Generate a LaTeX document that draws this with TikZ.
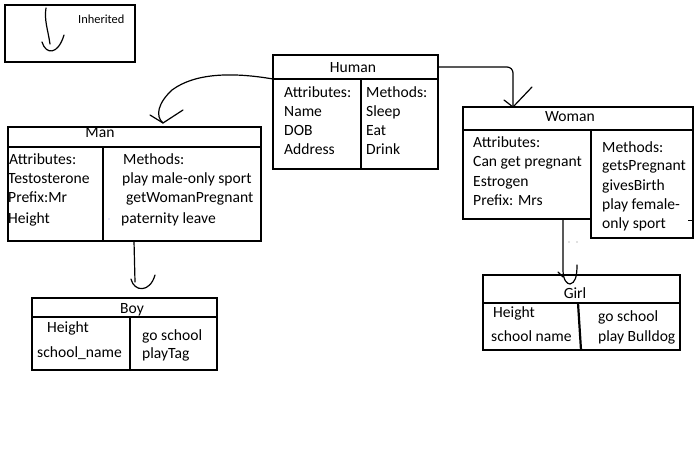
\documentclass[tikz,border=0pt]{standalone}
\usepackage{fontspec}
\setmainfont{Carlito}
\begin{document}
\begin{tikzpicture}[x=1pt,y=-1pt,
 box/.style={draw,line width=2.2pt,inner sep=0pt,outer sep=0pt,anchor=north west},
 txt/.style={anchor=base west,inner sep=0pt,font=\fontsize{15.6}{18}\selectfont},
 ttl/.style={anchor=base,inner sep=0pt,font=\fontsize{15.6}{18}\selectfont},
 conn/.style={line width=1.2pt,line cap=round,line join=round}]
\useasboundingbox[fill=white] (0,0) rectangle (700,454);

% ---------- texts ----------
\node[txt,font=\fontsize{12.4}{14}\selectfont] (legend-text) at (78,24) {Inherited};

\node[ttl] (human-title) at (353,73) {Human};
\node[txt] (h-a1) at (284,98) {Attributes:};
\node[txt] (h-a2) at (284,117) {Name};
\node[txt] (h-a3) at (284,136) {DOB};
\node[txt] (h-a4) at (284,155) {Address};
\node[txt] (h-m1) at (366,98) {Methods:};
\node[txt] (h-m2) at (366,117) {Sleep};
\node[txt] (h-m3) at (366,136) {Eat};
\node[txt] (h-m4) at (366,155) {Drink};

\node[ttl] (man-title) at (100,138) {Man};
\node[txt] (m-a1) at (9,165) {Attributes:};
\node[txt] (m-a2) at (8,184) {Testosterone};
\node[txt] (m-a3) at (8,203) {Prefix:Mr};
\node[txt] (m-a4) at (8,223) {Height};
\node[txt] (m-m1) at (123,165) {Methods:};
\node[txt] (m-m2) at (122,184) {play male-only sport};
\node[txt] (m-m3) at (126,203) {getWomanPregnant};
\node[txt] (m-m4) at (121,223) {paternity leave};

\node[ttl] (boy-title) at (132,313) {Boy};
\node[txt] (b-a1) at (47,332) {Height};
\node[txt] (b-a2) at (37,357) {school\_name};
\node[txt] (b-m1) at (142,340) {go school};
\node[txt] (b-m2) at (142,358) {playTag};

\node[ttl] (woman-title) at (570,122) {Woman};
\node[txt] (w-a1) at (473,148) {Attributes:};
\node[txt] (w-a2) at (473,167) {Can get pregnant};
\node[txt] (w-a3) at (473,186) {Estrogen};
\node[txt] (w-a4) at (473,205) {Prefix: Mrs};
\node[txt] (w-m1) at (602,153) {Methods:};
\node[txt] (w-m2) at (602,171) {getsPregnant};
\node[txt] (w-m3) at (602,190) {givesBirth};
\node[txt] (w-m4) at (602,209) {play female-};
\node[txt] (w-m5) at (602,228) {only sport};

\node[ttl] (girl-title) at (575,298) {Girl};
\node[txt] (g-a1) at (493,317) {Height};
\node[txt] (g-a2) at (491,341) {school name};
\node[txt] (g-m1) at (598,321) {go school};
\node[txt] (g-m2) at (598,341) {play Bulldog};

% ---------- boxes ----------
\node[box,line width=2.5pt,minimum width=130,minimum height=57] (legend) at (5,5) {};

\node[box,minimum width=165,minimum height=24] (human-head) at (273,55) {};
\node[box,minimum width=88,minimum height=90] (human-attr) at (273,79) {};
\node[box,minimum width=77,minimum height=90] (human-meth) at (361,79) {};

\node[box,minimum width=253,minimum height=20] (man-head) at (8,127) {};
\node[box,minimum width=95,minimum height=94] (man-attr) at (8,147) {};
\node[box,minimum width=158,minimum height=94] (man-meth) at (103,147) {};

\node[box,minimum width=185,minimum height=19] (boy-head) at (32,298) {};
\node[box,minimum width=98,minimum height=53] (boy-attr) at (32,317) {};
\node[box,minimum width=87,minimum height=53] (boy-meth) at (130,317) {};

\node[box,minimum width=230,minimum height=23] (woman-head) at (463,107) {};
\node[box,minimum width=128,minimum height=89] (woman-attr) at (463,130) {};
\node[box,minimum width=102,minimum height=108] (woman-meth) at (591,130) {};

\node[box,minimum width=197,minimum height=28] (girl-head) at (483,275) {};
\node[box,minimum width=197,minimum height=47] (girl-body) at (483,303) {};
\coordinate (girl-div-top) at (578,303);
\coordinate (girl-div-bot) at (581,350);
\draw[line width=2.2pt] (girl-div-top) -- (girl-div-bot);

% small artefacts
\coordinate (w-tick-a) at (688,220);
\coordinate (w-tick-b) at (693,220);
\draw[line width=1pt] (w-tick-a) -- (w-tick-b);
\fill[gray] (569,242) circle (0.7);
\fill[gray] (577,242) circle (0.7);
\fill[blue!40] (109,219) circle (0.6);

% ---------- connectors ----------
% legend arrow
\coordinate (lg-top) at (46,8);
\coordinate (lg-bot) at (50,44);
\coordinate (lg-hl) at (42,42);
\coordinate (lg-hr) at (64,35);
\draw[conn] (lg-top) .. controls (44,20) and (48,30) .. (lg-bot);
\draw[conn] (lg-hl) .. controls (46,55) and (58,55) .. (lg-hr);

% Human -> Man
\coordinate (man-tip) at (163,123);
\coordinate (man-al) at (150,115);
\coordinate (man-ar) at (183,110);
\draw[conn] (human-head.south west) .. controls (232,72) and (195,73) .. (172,90) .. controls (158,103) and (155,116) .. (man-tip);
\draw[conn] (man-al) -- (man-tip) -- (man-ar);

% Human -> Woman
\coordinate (woman-tip) at (513,107);
\coordinate (woman-al) at (504,100);
\coordinate (woman-ar) at (532,87);
\draw[conn,rounded corners=6pt] (human-head.east) -- (513,67) -- (woman-tip);
\draw[conn] (woman-al) -- (woman-tip) -- (woman-ar);

% Man -> Boy
\coordinate (man-bot) at (134,241);
\coordinate (boy-end) at (135,282);
\coordinate (boy-hl) at (131,279);
\coordinate (boy-hr) at (155,275);
\draw[conn] (man-bot) -- (boy-end);
\draw[conn] (boy-hl) .. controls (134,292) and (150,293) .. (boy-hr);

% Woman -> Girl
\coordinate (woman-bot) at (563,219);
\coordinate (girl-tip) at (570,284);
\coordinate (girl-hr) at (577,265);
\coordinate (girl-hl) at (558,272);
\draw[conn] (woman-bot) -- (563,270) .. controls (563,280) and (567,284) .. (girl-tip) .. controls (575,283) and (577,277) .. (girl-hr);
\draw[conn] (girl-hl) -- (563,277);
\end{tikzpicture}
\end{document}
